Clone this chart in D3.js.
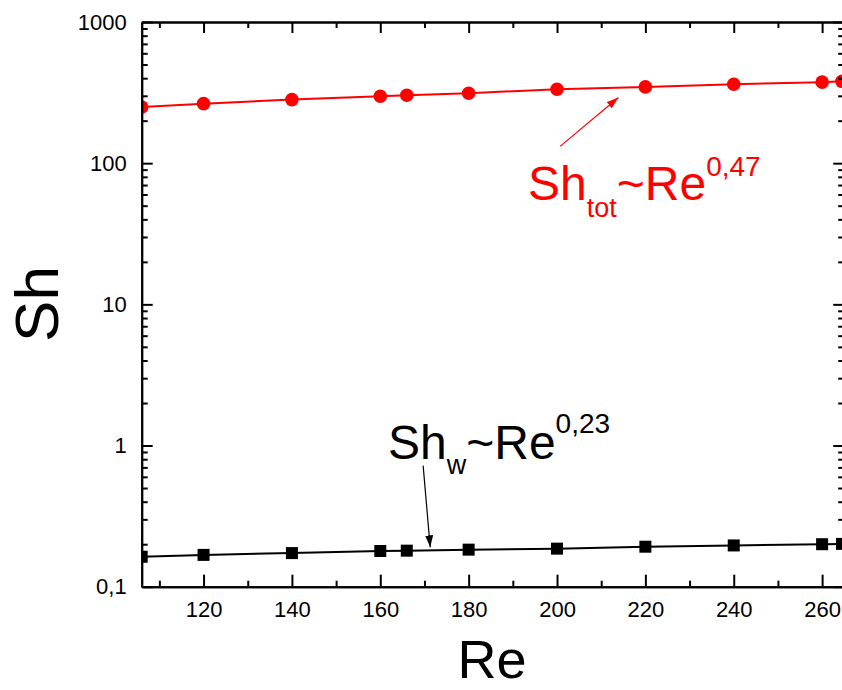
<!DOCTYPE html>
<html><head><meta charset="utf-8">
<script src="https://cdn.jsdelivr.net/npm/d3@7"></script>
<style>
html,body{margin:0;padding:0;background:#fff;}
svg{display:block;font-family:"Liberation Sans",Arial,sans-serif;}
</style></head>
<body><svg id="c" width="842" height="690"></svg>
<script>
// ---- data ----
const re      = [106, 120, 140, 160, 166, 180, 200, 220, 240, 260, 264.5];
const shTot   = [250, 264, 282, 298, 303, 313, 334, 347, 362, 375, 380];
const shW     = [0.163, 0.168, 0.173, 0.179, 0.180, 0.183, 0.186, 0.192, 0.196, 0.200, 0.201];
const xTicks  = [120, 140, 160, 180, 200, 220, 240, 260];
const xMinor  = [110, 130, 150, 170, 190, 210, 230, 250];
const yTicks  = [0.1, 1, 10, 100, 1000];
const yTickLabels = ["0,1", "1", "10", "100", "1000"];
const xDomain = [106, 265];
const yDomain = [0.1, 1000];

const svg = d3.select("#c");
const L = 141.7, R = 844.2, T = 22, B = 586.7;
const x = d3.scaleLinear().domain(xDomain).range([L, R]);
const y = d3.scaleLog().domain(yDomain).range([B, T]);

const yMinor = [];
[0.1, 1, 10, 100].forEach(d => { for (let k = 2; k <= 9; k++) yMinor.push(d * k); });

svg.append("defs").append("clipPath").attr("id", "clip")
  .append("rect").attr("x", L).attr("y", T).attr("width", R - L).attr("height", B - T);
const defs = svg.select("defs");
function marker(id, color) {
  defs.append("marker").attr("id", id).attr("viewBox", "0 0 12 8")
    .attr("refX", 12).attr("refY", 4).attr("markerWidth", 12).attr("markerHeight", 8)
    .attr("markerUnits", "userSpaceOnUse").attr("orient", "auto")
    .append("path").attr("d", "M0,0L12,4L0,8Z").attr("fill", color);
}
marker("arR", "#ff0000");
marker("arK", "#000");

// ---- data marks ----
const plot = svg.append("g").attr("clip-path", "url(#clip)");
const lineTot = d3.line().x((d, i) => x(re[i])).y(d => y(d));
plot.append("path").attr("d", lineTot(shTot)).attr("fill", "none")
  .attr("stroke", "#ff0000").attr("stroke-width", 2);
plot.append("path").attr("d", lineTot(shW)).attr("fill", "none")
  .attr("stroke", "#000").attr("stroke-width", 2);
plot.selectAll("circle.tot").data(shTot).join("circle").attr("class", "tot")
  .attr("cx", (d, i) => x(re[i])).attr("cy", d => y(d)).attr("r", 6.8).attr("fill", "#ff0000");
const sq = 12;
plot.selectAll("rect.w").data(shW).join("rect").attr("class", "w")
  .attr("x", (d, i) => x(re[i]) - sq / 2).attr("y", d => y(d) - sq / 2)
  .attr("width", sq).attr("height", sq).attr("fill", "#000");

// ---- axes ----
const fs = 22;
function style(g, labels) {
  g.select(".domain").attr("stroke-width", 2).attr("stroke", "#000");
  g.selectAll(".tick line").attr("stroke-width", 2).attr("stroke", "#000");
  g.selectAll(".tick text").attr("font-size", fs).attr("fill", "#000")
    .attr("font-family", "Liberation Sans, Arial, sans-serif");
  if (!labels) g.selectAll(".tick text").remove();
}
// bottom
svg.append("g").attr("transform", `translate(0,${B})`)
  .call(d3.axisBottom(x).tickValues(xMinor).tickSize(-6).tickSizeOuter(0)).call(g => style(g, false));
svg.append("g").attr("transform", `translate(0,${B})`)
  .call(d3.axisBottom(x).tickValues(xTicks).tickSize(-12).tickSizeOuter(0).tickPadding(15).tickFormat(d3.format("d")))
  .call(g => style(g, true));
// top
svg.append("g").attr("transform", `translate(0,${T})`)
  .call(d3.axisTop(x).tickValues(xMinor).tickSize(-6).tickSizeOuter(0)).call(g => style(g, false));
svg.append("g").attr("transform", `translate(0,${T})`)
  .call(d3.axisTop(x).tickValues(xTicks).tickSize(-11).tickSizeOuter(0)).call(g => style(g, false));
// left
svg.append("g").attr("transform", `translate(${L},0)`)
  .call(d3.axisLeft(y).tickValues(yMinor).tickSize(-6).tickSizeOuter(0)).call(g => style(g, false));
svg.append("g").attr("transform", `translate(${L},0)`)
  .call(d3.axisLeft(y).tickValues(yTicks).tickSize(-11).tickSizeOuter(0).tickPadding(15)
    .tickFormat((d, i) => yTickLabels[i]))
  .call(g => style(g, true));
// right
svg.append("g").attr("transform", `translate(${R},0)`)
  .call(d3.axisRight(y).tickValues(yMinor).tickSize(-6).tickSizeOuter(0)).call(g => style(g, false));
svg.append("g").attr("transform", `translate(${R},0)`)
  .call(d3.axisRight(y).tickValues(yTicks).tickSize(-11).tickSizeOuter(0)).call(g => style(g, false));

// ---- axis titles ----
svg.append("text").attr("transform", "translate(58,304) rotate(-90)")
  .attr("text-anchor", "middle").attr("font-size", 62).text("Sh");
svg.append("text").attr("x", 492).attr("y", 678)
  .attr("text-anchor", "middle").attr("font-size", 54).text("Re");

// ---- annotations ----
function label(xp, yp, color, sub, sup, subDy, supDy) {
  const t = svg.append("text").attr("x", xp).attr("y", yp).attr("fill", color).attr("font-size", 48);
  t.append("tspan").text("Sh");
  t.append("tspan").attr("font-size", 27).attr("dy", subDy).text(sub);
  t.append("tspan").attr("dy", -subDy).text("~Re");
  t.append("tspan").attr("font-size", 28).attr("dy", supDy).text(sup);
}
label(528, 200, "#ff0000", "tot", "0,47", 16.7, -24);
label(388, 459, "#000", "w", "0,23", 15, -26);

// arrows (positioned in data coordinates)
svg.append("line")
  .attr("x1", x(200.7)).attr("y1", y(131.5)).attr("x2", x(213.9)).attr("y2", y(292))
  .attr("stroke", "#ff0000").attr("stroke-width", 1.2).attr("marker-end", "url(#arR)");
svg.append("line")
  .attr("x1", x(169.7)).attr("y1", y(0.72)).attr("x2", x(171.3)).attr("y2", y(0.19))
  .attr("stroke", "#000").attr("stroke-width", 1.2).attr("marker-end", "url(#arK)");
</script></body></html>
